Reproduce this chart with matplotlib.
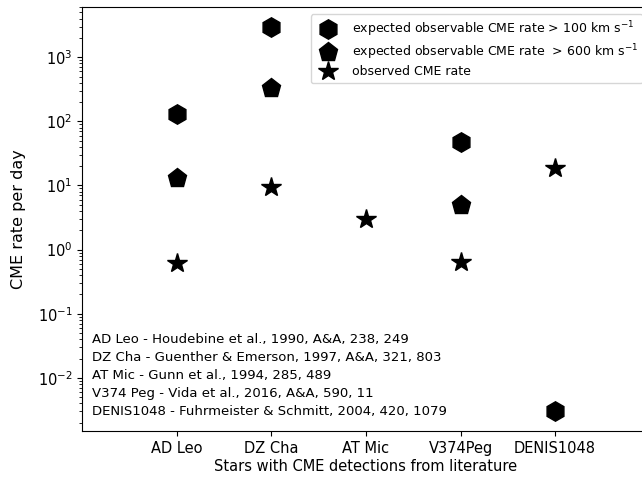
import numpy as np
import matplotlib
matplotlib.use("Agg")
import matplotlib.pyplot as plt

# stars and rates
stars = ["AD Leo", "DZ Cha", "AT Mic", "V374Peg", "DENIS1048"]
rate_100 = [128, 2950, np.nan, 47, 0.003]     # expected > 100 km/s
rate_600 = [13, 330, np.nan, 4.9, np.nan]      # expected > 600 km/s
rate_obs = [0.62, 9.3, 3.0, 0.65, 18.5]        # observed

refs = [
    "AD Leo - Houdebine et al., 1990, A&A, 238, 249",
    "DZ Cha - Guenther & Emerson, 1997, A&A, 321, 803",
    "AT Mic - Gunn et al., 1994, 285, 489",
    "V374 Peg - Vida et al., 2016, A&A, 590, 11",
    "DENIS1048 - Fuhrmeister & Schmitt, 2004, 420, 1079",
]

fig = plt.figure(figsize=(6.42, 4.79), dpi=100)
ax = fig.add_axes([0.128, 0.100, 0.884, 0.885])

x = np.arange(len(stars))
ax.plot(x, rate_100, "h", color="black", ms=14, ls="none",
        label=r"expected observable CME rate > 100 km s$^{-1}$")
ax.plot(x, rate_600, "p", color="black", ms=14, ls="none",
        label=r"expected observable CME rate  > 600 km s$^{-1}$")
ax.plot(x, rate_obs, "*", color="black", ms=15, ls="none",
        label="observed CME rate")

ax.set_yscale("log")
ax.set_ylim(10**-2.83, 10**3.78)
ax.set_xlim(-1, 5)
ax.set_xticks(x)
ax.set_xticklabels(stars)
ax.tick_params(labelsize=10.5)
ax.set_xlabel("Stars with CME detections from literature", fontsize=10.5, labelpad=2)
ax.set_ylabel("CME rate per day", fontsize=11.5, labelpad=8)

ax.legend(loc="upper right", fontsize=9, borderaxespad=0.55,
          labelspacing=0.28, handletextpad=0.85)

# literature references, bottom left inside the axes
ax.text(0.018, 0.03, "\n".join(refs), transform=ax.transAxes,
        ha="left", va="bottom", fontsize=9.5, linespacing=1.5)

fig.savefig("out.png", dpi=100)
